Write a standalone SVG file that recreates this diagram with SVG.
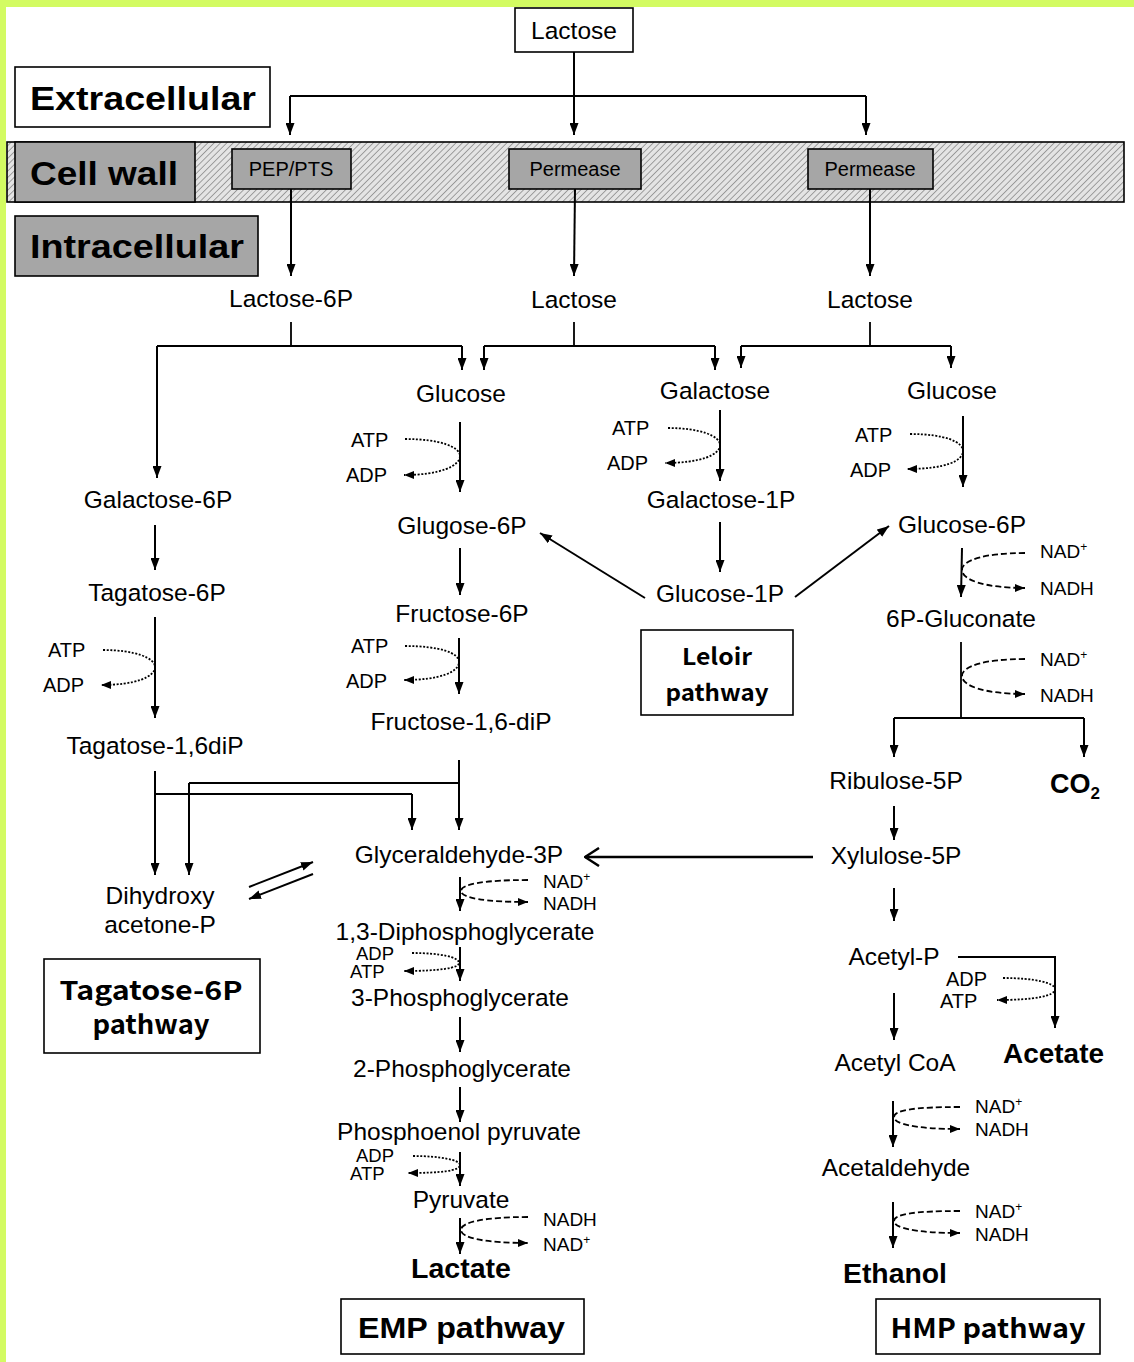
<svg xmlns="http://www.w3.org/2000/svg" width="1134" height="1362" viewBox="0 0 1134 1362">
<defs>
<pattern id="hatch" patternUnits="userSpaceOnUse" width="4.5" height="4.5" patternTransform="rotate(45)">
<rect width="4.5" height="4.5" fill="#e4e4e4"/>
<line x1="0" y1="0" x2="0" y2="4.5" stroke="#6e6e6e" stroke-width="1.2"/>
</pattern>
<marker id="ah" viewBox="0 0 10 10" refX="10" refY="5" markerWidth="12" markerHeight="9" markerUnits="userSpaceOnUse" orient="auto" preserveAspectRatio="none"><path d="M0,0 L10,5 L0,10 z" fill="#000"/></marker>
<marker id="ahs" viewBox="0 0 10 10" refX="10" refY="5" markerWidth="10" markerHeight="8" markerUnits="userSpaceOnUse" orient="auto" preserveAspectRatio="none"><path d="M0,0 L10,5 L0,10 z" fill="#000"/></marker>
<marker id="aho" viewBox="0 0 16 20" refX="15" refY="10" markerWidth="16" markerHeight="20" markerUnits="userSpaceOnUse" orient="auto" preserveAspectRatio="none"><path d="M1,1 L15,10 L1,19" fill="none" stroke="#000" stroke-width="2.5"/></marker>
</defs>
<style>
.t{font-family:"Liberation Sans",Arial,sans-serif;font-size:24.5px;text-anchor:middle;fill:#000}
.s{font-family:"Liberation Sans",Arial,sans-serif;font-size:20px;fill:#000}
.s2{font-family:"Liberation Sans",Arial,sans-serif;font-size:18.5px;fill:#000}
.n{font-family:"Liberation Sans",Arial,sans-serif;font-size:19px;fill:#000}
.b{font-family:"Liberation Sans",Arial,sans-serif;font-weight:bold;fill:#000}
.j{font-family:"Noto Sans CJK JP","Liberation Sans",sans-serif;font-weight:bold;fill:#000;text-anchor:middle}
.box{fill:#fff;stroke:#000;stroke-width:1.6}
.gbox{fill:#a6a6a6;stroke:#000;stroke-width:1.6}
.ar{fill:none;stroke:#000;stroke-width:2;marker-end:url(#ah)}
.ln{fill:none;stroke:#000;stroke-width:1.8}
.dot{fill:none;stroke:#000;stroke-width:1.8;stroke-dasharray:2 1.6;marker-end:url(#ahs)}
.dash{fill:none;stroke:#000;stroke-width:1.8;stroke-dasharray:6 3;marker-end:url(#ahs)}
</style>
<rect x="0" y="0" width="1134" height="1362" fill="#fff"/>
<rect x="0" y="0" width="1134" height="7" fill="#d3fb62"/>
<rect x="0" y="0" width="6" height="1362" fill="#d3fb62"/>

<g id="cellwall">
<rect x="7" y="142" width="1117" height="60" fill="url(#hatch)" stroke="#000" stroke-width="1.6"/>
</g>
<g id="extracellular"><rect class="box" x="15" y="67" width="255" height="60"/><text class="b" x="30" y="110" font-size="33" textLength="226" lengthAdjust="spacingAndGlyphs">Extracellular</text></g>
<g id="cellwall-label"><rect class="gbox" x="15" y="142" width="180" height="60"/><text class="b" x="30" y="185" font-size="33" textLength="148" lengthAdjust="spacingAndGlyphs">Cell wall</text></g>
<g id="intracellular"><rect class="gbox" x="15" y="216" width="243" height="60"/><text class="b" x="30" y="258" font-size="33" textLength="214" lengthAdjust="spacingAndGlyphs">Intracellular</text></g>

<g id="lactose-ext"><rect class="box" x="515" y="8" width="118" height="44"/><text class="t" x="574" y="39">Lactose</text></g>
<g id="pep-pts"><rect class="gbox" x="232" y="149" width="119" height="40"/><text class="s" x="291" y="176" text-anchor="middle">PEP/PTS</text></g>
<g id="permease1"><rect class="gbox" x="509" y="149" width="132" height="40"/><text class="s" x="575" y="176" text-anchor="middle">Permease</text></g>
<g id="permease2"><rect class="gbox" x="808" y="149" width="125" height="40"/><text class="s" x="870" y="176" text-anchor="middle">Permease</text></g>

<g id="connectors">
<path class="ar" d="M574,52 V135"/>
<path class="ln" d="M290,96 H866"/>
<path class="ar" d="M290,96 V135"/>
<path class="ar" d="M866,96 V135"/>
<path class="ar" d="M291,189 V276"/>
<path class="ar" d="M575,189 L574,276"/>
<path class="ar" d="M870,189 V276"/>
<path class="ln" d="M291,322 V346 M157,346 H462"/>
<path class="ar" d="M157,346 V478"/>
<path class="ar" d="M462,346 V370"/>
<path class="ln" d="M574,322 V346 M484,346 H715"/>
<path class="ar" d="M484,346 V370"/>
<path class="ar" d="M715,346 V370"/>
<path class="ln" d="M870,322 V346 M741,346 H951"/>
<path class="ar" d="M741,346 V368"/>
<path class="ar" d="M951,346 V368"/>
<path class="ar" d="M460,422 V492"/>
<path class="ar" d="M460,548 V595"/>
<path class="ar" d="M459,638 V694"/>
<path class="ar" d="M459,760 V830"/>
<path class="ln" d="M189,783 H459"/>
<path class="ar" d="M189,783 V875"/>
<path class="ar" d="M155,771 V875"/>
<path class="ln" d="M155,794 H412"/>
<path class="ar" d="M412,794 V830"/>
<path class="ar" d="M155,525 V570"/>
<path class="ar" d="M155,617 V718"/>
<path class="ar" d="M249,887 L313,862"/>
<path class="ar" d="M313,874 L249,899"/>
<path class="ar" d="M460,877 V911"/>
<path class="ar" d="M460,947 V981"/>
<path class="ar" d="M460,1017 V1052"/>
<path class="ar" d="M460,1087 V1122"/>
<path class="ar" d="M460,1152 V1186"/>
<path class="ar" d="M460,1218 V1254"/>
<path class="ar" d="M720,410 V481"/>
<path class="ar" d="M720,522 V572"/>
<path class="ar" d="M645,598 L540,533"/>
<path class="ar" d="M795,597 L889,526"/>
<path class="ar" d="M963,416 V487"/>
<path class="ar" d="M962,548 L961,597"/>
<path class="ln" d="M961,642 V718 M894,718 H1084"/>
<path class="ar" d="M894,718 V757"/>
<path class="ar" d="M1084,718 V757"/>
<path class="ar" d="M894,806 V840"/>
<path fill="none" stroke="#000" stroke-width="2.5" marker-end="url(#aho)" d="M813,857 H585"/>
<path class="ar" d="M894,888 V921"/>
<path class="ar" d="M894,993 V1040"/>
<path class="ar" d="M958,957 H1055 V1028"/>
<path class="ar" d="M893,1101 V1147"/>
<path class="ar" d="M893,1202 V1248"/>

<path class="dot" d="M103,650 C135,650 155,658 155,667 C155,677 135,685 101,685"/>
<path class="dot" d="M405,439 C440,439 460,447 460,456 C460,466 440,475 404,475"/>
<path class="dot" d="M405,646 C440,646 459,653 459,662 C459,672 440,680 404,680"/>
<path class="dot" d="M668,428 C700,428 720,436 720,445 C720,455 700,463 665,463"/>
<path class="dot" d="M910,434 C945,434 963,442 963,451 C963,461 945,469 907,469"/>
<path class="dot" d="M412,953 C440,953 459,957 459,963 C459,968 440,971 404,971"/>
<path class="dot" d="M413,1156 C440,1156 460,1160 460,1165 C460,1171 440,1173 408,1173"/>
<path class="dot" d="M1003,978 C1035,978 1055,983 1055,989 C1055,996 1035,1000 997,1000"/>

<path class="dash" d="M1025,553 C985,553 962,560 962,570 C962,580 985,588 1025,588"/>
<path class="dash" d="M1025,659 C985,659 962,666 962,676 C962,686 985,694 1025,694"/>
<path class="dash" d="M528,880 C485,880 461,884 461,891 C461,898 485,902 528,902"/>
<path class="dash" d="M528,1217 C485,1217 461,1222 461,1230 C461,1238 485,1243 528,1243"/>
<path class="dash" d="M960,1107 C915,1107 894,1110 894,1117 C894,1124 915,1129 960,1129"/>
<path class="dash" d="M960,1211 C915,1211 894,1214 894,1221 C894,1228 915,1233 960,1233"/>
</g>

<g id="lactose-6p"><text class="t" x="291" y="307">Lactose-6P</text></g>
<g id="lactose-mid"><text class="t" x="574" y="308">Lactose</text></g>
<g id="lactose-right"><text class="t" x="870" y="308">Lactose</text></g>
<g id="glucose-mid"><text class="t" x="461" y="402">Glucose</text></g>
<g id="galactose"><text class="t" x="715" y="399">Galactose</text></g>
<g id="glucose-right"><text class="t" x="952" y="399">Glucose</text></g>
<g id="galactose-6p"><text class="t" x="158" y="508">Galactose-6P</text></g>
<g id="tagatose-6p"><text class="t" x="157" y="601">Tagatose-6P</text></g>
<g id="tagatose-16dip"><text class="t" x="155" y="754">Tagatose-1,6diP</text></g>
<g id="glugose-6p"><text class="t" x="462" y="534">Glugose-6P</text></g>
<g id="fructose-6p"><text class="t" x="462" y="622">Fructose-6P</text></g>
<g id="fructose-16dip"><text class="t" x="461" y="730">Fructose-1,6-diP</text></g>
<g id="galactose-1p"><text class="t" x="721" y="508">Galactose-1P</text></g>
<g id="glucose-1p"><text class="t" x="720" y="602">Glucose-1P</text></g>
<g id="glucose-6p"><text class="t" x="962" y="533">Glucose-6P</text></g>
<g id="gluconate-6p"><text class="t" x="961" y="627">6P-Gluconate</text></g>
<g id="ribulose-5p"><text class="t" x="896" y="789">Ribulose-5P</text></g>
<g id="co2"><text class="b" x="1050" y="793" font-size="27">CO<tspan font-size="17" dy="6">2</tspan></text></g>
<g id="xylulose-5p"><text class="t" x="896" y="864">Xylulose-5P</text></g>
<g id="g3p"><text class="t" x="459" y="863">Glyceraldehyde-3P</text></g>
<g id="dhap"><text class="t" x="160" y="904">Dihydroxy</text><text class="t" x="160" y="933">acetone-P</text></g>
<g id="dpg13"><text class="t" x="465" y="940">1,3-Diphosphoglycerate</text></g>
<g id="pg3"><text class="t" x="460" y="1006">3-Phosphoglycerate</text></g>
<g id="pg2"><text class="t" x="462" y="1077">2-Phosphoglycerate</text></g>
<g id="pep"><text class="t" x="459" y="1140">Phosphoenol pyruvate</text></g>
<g id="pyruvate"><text class="t" x="461" y="1208">Pyruvate</text></g>
<g id="lactate"><text class="b" x="411" y="1278" font-size="27" textLength="100" lengthAdjust="spacingAndGlyphs">Lactate</text></g>
<g id="acetyl-p"><text class="t" x="894" y="965">Acetyl-P</text></g>
<g id="acetate"><text class="b" x="1003" y="1063" font-size="27" textLength="101" lengthAdjust="spacingAndGlyphs">Acetate</text></g>
<g id="acetyl-coa"><text class="t" x="895" y="1071">Acetyl CoA</text></g>
<g id="acetaldehyde"><text class="t" x="896" y="1176">Acetaldehyde</text></g>
<g id="ethanol"><text class="b" x="843" y="1283" font-size="27" textLength="104" lengthAdjust="spacingAndGlyphs">Ethanol</text></g>

<g id="cofactors">
<text class="s" x="48" y="657">ATP</text><text class="s" x="43" y="692">ADP</text>
<text class="s" x="351" y="447">ATP</text><text class="s" x="346" y="482">ADP</text>
<text class="s" x="351" y="653">ATP</text><text class="s" x="346" y="688">ADP</text>
<text class="s" x="612" y="435">ATP</text><text class="s" x="607" y="470">ADP</text>
<text class="s" x="855" y="442">ATP</text><text class="s" x="850" y="477">ADP</text>
<text class="s2" x="356" y="960">ADP</text><text class="s2" x="350" y="978">ATP</text>
<text class="s2" x="356" y="1162">ADP</text><text class="s2" x="350" y="1180">ATP</text>
<text class="s" x="946" y="986">ADP</text><text class="s" x="940" y="1008">ATP</text>
<text class="n" x="1040" y="558">NAD<tspan font-size="12" dy="-7">+</tspan></text><text class="n" x="1040" y="595">NADH</text>
<text class="n" x="1040" y="666">NAD<tspan font-size="12" dy="-7">+</tspan></text><text class="n" x="1040" y="702">NADH</text>
<text class="n" x="543" y="888">NAD<tspan font-size="12" dy="-7">+</tspan></text><text class="n" x="543" y="910">NADH</text>
<text class="n" x="543" y="1226">NADH</text><text class="n" x="543" y="1251">NAD<tspan font-size="12" dy="-7">+</tspan></text>
<text class="n" x="975" y="1113">NAD<tspan font-size="12" dy="-7">+</tspan></text><text class="n" x="975" y="1136">NADH</text>
<text class="n" x="975" y="1218">NAD<tspan font-size="12" dy="-7">+</tspan></text><text class="n" x="975" y="1241">NADH</text>
</g>

<g id="leloir-box"><rect class="box" x="641" y="630" width="152" height="85"/><text class="j" x="717" y="665" font-size="23" textLength="70" lengthAdjust="spacingAndGlyphs">Leloir</text><text class="j" x="717" y="701" font-size="23" textLength="103" lengthAdjust="spacingAndGlyphs">pathway</text></g>
<g id="tagatose-box"><rect class="box" x="44" y="959" width="216" height="94"/><text class="j" x="151" y="1000" font-size="26" textLength="183" lengthAdjust="spacingAndGlyphs">Tagatose-6P</text><text class="j" x="151" y="1034" font-size="26" textLength="117" lengthAdjust="spacingAndGlyphs">pathway</text></g>
<g id="emp-box"><rect class="box" x="341" y="1299" width="243" height="55"/><text class="b" x="358" y="1338" font-size="29" textLength="207" lengthAdjust="spacingAndGlyphs">EMP pathway</text></g>
<g id="hmp-box"><rect class="box" x="876" y="1299" width="224" height="55"/><text class="j" x="988" y="1338" font-size="27" textLength="195" lengthAdjust="spacingAndGlyphs">HMP pathway</text></g>
</svg>
